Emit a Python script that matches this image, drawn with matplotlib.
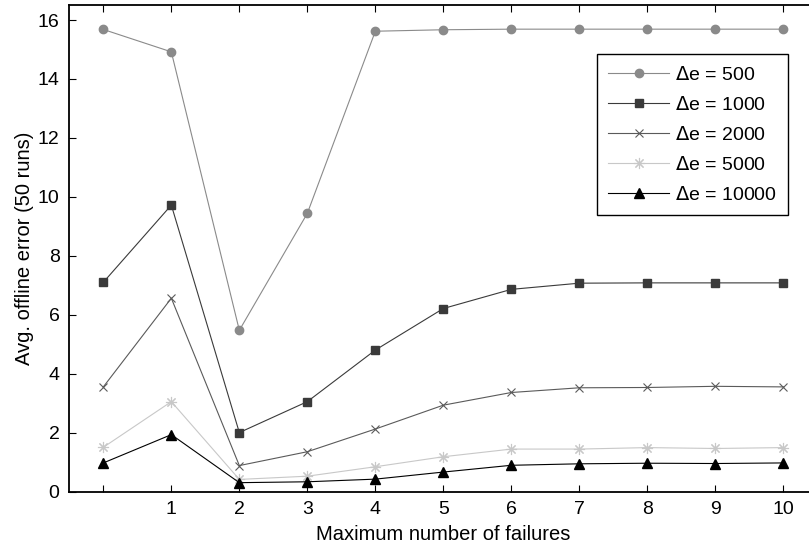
import matplotlib
matplotlib.use("Agg")
import matplotlib.pyplot as plt

plt.rcParams['font.family'] = ['Liberation Sans', 'DejaVu Sans']

failures = [0, 1, 2, 3, 4, 5, 6, 7, 8, 9, 10]
tick_labels = ['', '1', '2', '3', '4', '5', '6', '7', '8', '9', '10']

err_500 = [15.68, 14.92, 5.47, 9.44, 15.62, 15.67, 15.69, 15.69, 15.69, 15.69, 15.69]
err_1000 = [7.10, 9.72, 2.00, 3.05, 4.80, 6.21, 6.86, 7.07, 7.08, 7.08, 7.08]
err_2000 = [3.55, 6.56, 0.88, 1.35, 2.12, 2.93, 3.36, 3.52, 3.53, 3.57, 3.55]
err_5000 = [1.50, 3.05, 0.41, 0.52, 0.84, 1.18, 1.44, 1.44, 1.49, 1.46, 1.49]
err_10000 = [0.97, 1.93, 0.30, 0.33, 0.42, 0.66, 0.89, 0.94, 0.96, 0.95, 0.97]

fig = plt.figure(figsize=(8.09, 5.46), dpi=100)
ax = fig.add_axes([0.0857, 0.0998, 0.9246, 0.8905])

lw = 0.8
ax.plot(failures, err_500, '-o', color='#8a8a8a', lw=lw, ms=6, label=r'$\Delta$e = 500')
ax.plot(failures, err_1000, '-s', color='#3a3a3a', lw=lw, ms=5.5, label=r'$\Delta$e = 1000')
ax.plot(failures, err_2000, '-x', color='#5a5a5a', lw=lw, ms=6, mew=0.8, label=r'$\Delta$e = 2000')
ax.plot(failures, err_5000, '-', marker=(8, 2, 0), color='#c8c8c8', lw=lw, ms=8, mew=0.8,
        label=r'$\Delta$e = 5000')
ax.plot(failures, err_10000, '-^', color='black', lw=lw, ms=6.5, label=r'$\Delta$e = 10000')

ax.set_xlim(-0.5, 10.5)
ax.set_ylim(0, 16.5)
ax.set_xticks(failures)
ax.set_xticklabels(tick_labels)
ax.set_yticks(range(0, 17, 2))
ax.tick_params(direction='in', length=5, width=0.8, labelsize=14, top=True, right=False, pad=7)
for s in ax.spines.values():
    s.set_linewidth(1.3)

ax.set_xlabel('Maximum number of failures', fontsize=14.5, labelpad=5)
ax.set_ylabel('Avg. offline error (50 runs)', fontsize=14.5, labelpad=3)

leg = ax.legend(loc='upper right', bbox_to_anchor=(0.961, 0.900), borderaxespad=0,
                fontsize=14, handlelength=3.1, handletextpad=0.3, labelspacing=0.62,
                fancybox=False, framealpha=1, edgecolor='black', borderpad=0.6)
leg.get_frame().set_linewidth(1.0)

fig.savefig('out.png', dpi=100)
